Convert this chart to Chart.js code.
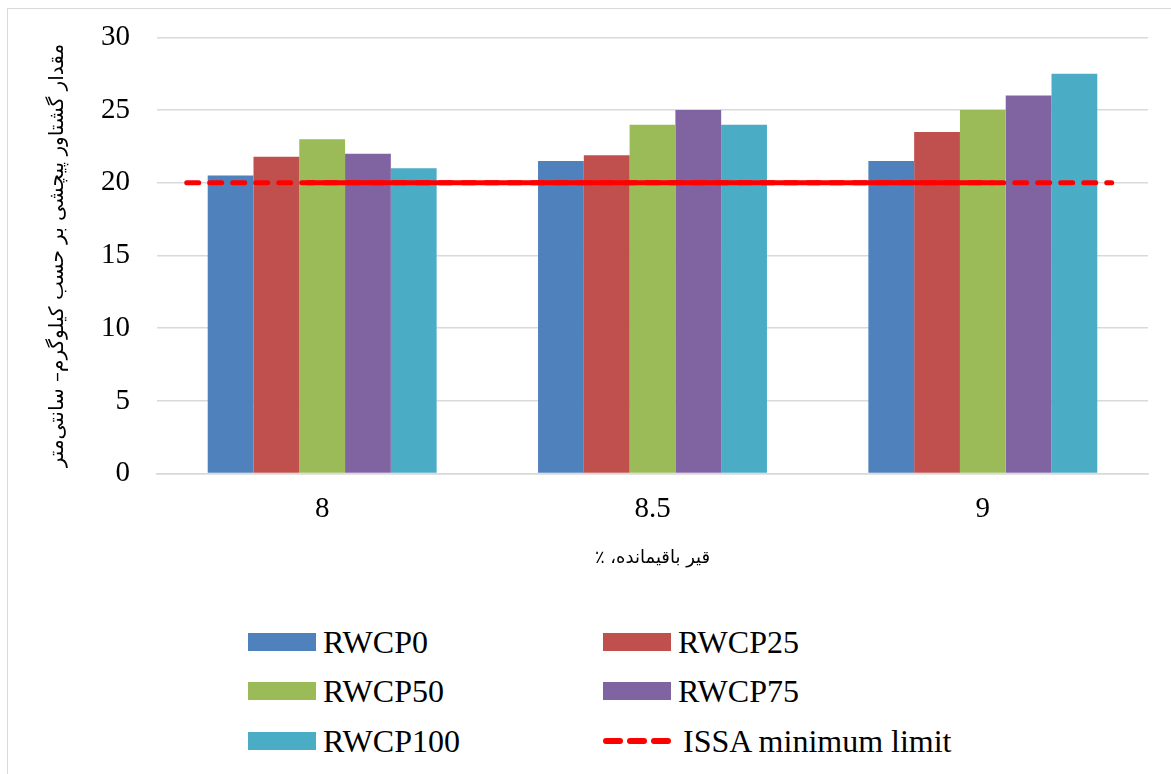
<!DOCTYPE html>
<html>
<head>
<meta charset="utf-8">
<script src="https://cdn.jsdelivr.net/npm/chart.js@4"></script>
<style>
  html, body { margin:0; padding:0; background:#fff; }
  body { width:1171px; height:774px; position:relative; overflow:hidden; }
  .frame { position:absolute; left:7px; top:8px; width:1180px; height:780px; border:1.5px solid #d9d9d9; box-sizing:border-box; }
  .wrap { position:absolute; left:0; top:-7px; width:1171px; height:580px; }
  .legend { position:absolute; left:248px; top:622px; width:760px; font-family:'Liberation Serif','Times New Roman',serif; font-size:32px; color:#000; }
  .legend-item { position:absolute; display:flex; align-items:center; white-space:nowrap; line-height:40px; }
  .legend-box { width:68px; height:18px; margin-right:7px; }
  .legend-dash { width:68px; height:6px; margin-right:12px; }
</style>
</head>
<body>
<div class="frame"></div>
<div class="wrap"><canvas id="c" dir="rtl"></canvas></div>
<div class="legend" id="legend"></div>
<script>
// ── Data ─────────────────────────────────────────────────────
const categories = ['8', '8.5', '9'];
const seriesNames = ['RWCP0', 'RWCP25', 'RWCP50', 'RWCP75', 'RWCP100'];
const seriesColors = ['#4f81bd', '#c0504d', '#9bbb59', '#8064a2', '#4bacc6'];
const rwcp0   = [20.5, 21.5, 21.5];
const rwcp25  = [21.8, 21.9, 23.5];
const rwcp50  = [23.0, 24.0, 25.0];
const rwcp75  = [22.0, 25.0, 26.0];
const rwcp100 = [21.0, 24.0, 27.5];
const seriesValues = [rwcp0, rwcp25, rwcp50, rwcp75, rwcp100];

const limitLabel = 'ISSA minimum limit';
const limitValue = 20;
const limitSpan = [-0.41, 2.39];   // category-index units (0 = first category)
const limitSolid = [-0.045, 2.03]; // overlapping part that looks solid

const yTicks = [0, 5, 10, 15, 20, 25, 30];
const yTitle = 'مقدار گشتاور پیچشی بر حسب کیلوگرم– سانتی‌متر';
const xTitle = 'قیر باقیمانده، ٪';

const serif = "'Liberation Serif', 'Times New Roman', serif";
const persian = "'DejaVu Sans', 'Noto Sans', sans-serif";

// ── Chart ────────────────────────────────────────────────────
const datasets = seriesNames.map((name, i) => ({
  label:name, data:seriesValues[i],
  backgroundColor:seriesColors[i], borderWidth:0,
  barPercentage:1.0, categoryPercentage:0.693, order:2
}));
// limit line lives on the category axis, given as raw index positions
datasets.push({
  type:'line', label:limitLabel, parsing:false,
  data:limitSpan.map(x => ({ x, y:limitValue })),
  borderColor:'#ff0000', borderWidth:5, borderDash:[12, 11], borderCapStyle:'round',
  pointRadius:0, fill:false, order:1
});
datasets.push({
  type:'line', label:'_solid', parsing:false,
  data:limitSolid.map(x => ({ x, y:limitValue })),
  borderColor:'#ff0000', borderWidth:5, borderCapStyle:'round',
  pointRadius:0, fill:false, order:1
});

const chart = new Chart(document.getElementById('c'), {
  type:'bar',
  data:{ labels:categories, datasets },
  options:{
    responsive:true, maintainAspectRatio:false, animation:false,
    layout:{ padding:{ left:42, right:23, top:17, bottom:0 } },
    plugins:{ legend:{ display:false }, tooltip:{ enabled:false } },
    scales:{
      x:{
        grid:{ display:false, drawTicks:false },
        border:{ color:'#d9d9d9', width:1.5 },
        ticks:{ color:'#000', font:{ family:serif, size:29 }, padding:18 },
        title:{ display:true, text:xTitle, color:'#000', font:{ family:persian, size:18 }, padding:{ top:3 } }
      },
      y:{
        min:0, max:30,
        afterBuildTicks:axis => { axis.ticks = yTicks.map(v => ({ value:v })); },
        grid:{ color:'#d9d9d9', lineWidth:1.5, drawTicks:false },
        border:{ display:false },
        ticks:{ color:'#000', font:{ family:serif, size:29 }, padding:27 },
        title:{ display:true, text:yTitle, color:'#000', font:{ family:persian, size:20 }, padding:{ bottom:4 } }
      }
    }
  }
});

// ── Legend (two columns, Excel style) ────────────────────────
const legendItems = seriesNames.map((n, i) => ({ text:n, color:seriesColors[i], dash:false }));
legendItems.push({ text:limitLabel, color:'#ff0000', dash:true });
const colX = [0, 355];
const rowY = [0, 49, 99];
document.getElementById('legend').innerHTML = legendItems.map((it, i) => {
  const col = i % 2, row = Math.floor(i / 2);
  const mark = it.dash
    ? `<svg class="legend-dash" viewBox="0 0 68 6"><line x1="3" y1="3" x2="65" y2="3" stroke="${it.color}" stroke-width="6" stroke-linecap="round" stroke-dasharray="14 10"/></svg>`
    : `<div class="legend-box" style="background:${it.color};"></div>`;
  return `<div class="legend-item" style="left:${colX[col]}px;top:${rowY[row]}px;">${mark}<span>${it.text}</span></div>`;
}).join('');
</script>
</body>
</html>
